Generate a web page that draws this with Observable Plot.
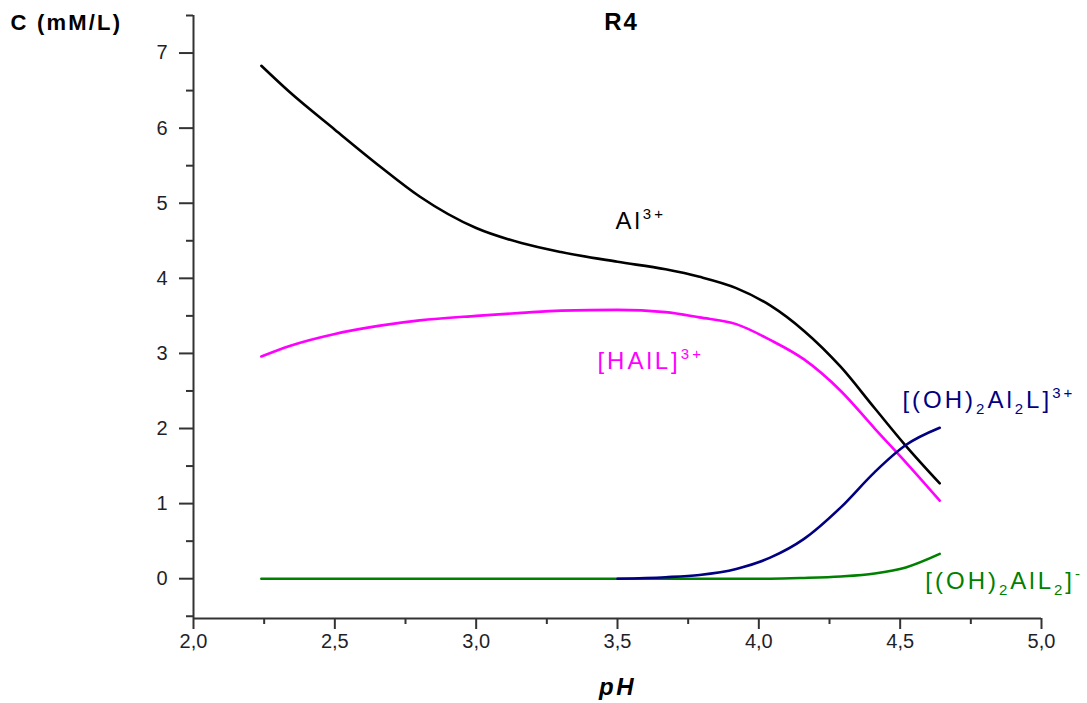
<!DOCTYPE html>
<html>
<head>
<meta charset="utf-8">
<script src="https://cdn.jsdelivr.net/npm/d3@7"></script>
<script src="https://cdn.jsdelivr.net/npm/@observablehq/plot@0.6"></script>
<style>
  html, body { margin: 0; padding: 0; background: #ffffff; }
  #chart { width: 1087px; height: 703px; }
</style>
</head>
<body>
<div id="chart"></div>
<script>
// ---- data ----
const pH = [2.24, 2.34, 2.5, 2.66, 2.8, 3.0, 3.16, 3.3, 3.5, 3.67, 3.79, 3.92, 4.04, 4.16, 4.29, 4.41, 4.52, 4.64];
const al3 =   [6.83, 6.48, 5.98, 5.49, 5.09, 4.67, 4.47, 4.35, 4.22, 4.12, 4.02, 3.87, 3.64, 3.30, 2.82, 2.27, 1.77, 1.27];
const hall =  [2.96, 3.10, 3.26, 3.37, 3.44, 3.50, 3.54, 3.57, 3.58, 3.55, 3.48, 3.39, 3.18, 2.92, 2.50, 2.00, 1.55, 1.04];
const ohal2l = [null, null, null, null, null, null, null, null, 0.00, 0.02, 0.05, 0.13, 0.28, 0.53, 0.95, 1.42, 1.78, 2.01];
const ohall2 = [0, 0, 0, 0, 0, 0, 0, 0, 0, 0, 0, 0, 0, 0.01, 0.03, 0.07, 0.15, 0.33];

const seriesNames = ["Al3+", "[HAlL]3+", "[(OH)2AlL2]-", "[(OH)2Al2L]3+"];
const seriesValues = [al3, hall, ohall2, ohal2l];
const seriesColors = ["#000000", "#ff00ff", "#008000", "#000080"];

// curve labels: markup (^{..} superscript, _{..} subscript), anchor position in data units
const labelMarkup = ["Al^{3+}", "[HAlL]^{3+}", "[(OH)_{2}AlL_{2}]^{-}", "[(OH)_{2}Al_{2}L]^{3+}"];
const labelPH = [3.493, 3.429, 4.589, 4.508];
const labelC = [4.76, 2.89, -0.04, 2.37];

const xTicks = [2.0, 2.5, 3.0, 3.5, 4.0, 4.5, 5.0];
const xMinorTicks = [2.25, 2.75, 3.25, 3.75, 4.25, 4.75];
const yTicks = [0, 1, 2, 3, 4, 5, 6, 7];
const yMinorTicks = [-0.5, 0.5, 1.5, 2.5, 3.5, 4.5, 5.5, 6.5, 7.5];
const xDomain = [2, 5];
const yDomain = [-0.53, 7.5];

const title = "R4";
const yTitle = "C (mM/L)";
const xTitle = "pH";

// ---- build tables ----
const lines = seriesNames.map((name, s) =>
  pH.map((p, i) => ({pH: p, C: seriesValues[s][i], species: name}))
    .filter(d => d.C !== null)
);
const plain = m => m.replace(/[\^_]\{([^}]*)\}/g, "$1");
const labels = labelMarkup.map((m, i) => ({text: plain(m), markup: m, pH: labelPH[i], C: labelC[i], color: seriesColors[i]}));
const fmtX = d => d.toFixed(1).replace(".", ",");
const fmtY = d => String(d);

const axisColor = "#333333";
const tickText = "#1f1f2a";
const tickFont = 20;
const font = "Liberation Sans, Arial, sans-serif";

const marks = [
  Plot.ruleX([xDomain[0]], {stroke: axisColor, strokeWidth: 2}),
  Plot.ruleY([yDomain[0]], {stroke: axisColor, strokeWidth: 2}),
  Plot.axisX({ticks: xTicks, tickSize: 11, strokeWidth: 2, stroke: axisColor, tickFormat: () => "", label: null}),
  Plot.axisX({ticks: xMinorTicks, tickSize: 6, strokeWidth: 2, stroke: axisColor, tickFormat: () => "", label: null}),
  Plot.axisY({ticks: yTicks, tickSize: 14, strokeWidth: 2, stroke: axisColor, tickFormat: () => "", label: null}),
  Plot.axisY({ticks: yMinorTicks, tickSize: 7, strokeWidth: 2, stroke: axisColor, tickFormat: () => "", label: null}),
  // tick labels
  Plot.text(xTicks, {x: d => d, text: fmtX, frameAnchor: "bottom", lineAnchor: "top", dy: 15,
    fontSize: tickFont, fill: tickText, fontFamily: font}),
  Plot.text(yTicks, {y: d => d, text: fmtY, frameAnchor: "left", textAnchor: "end", lineAnchor: "middle", dx: -26,
    fontSize: tickFont, fill: tickText, fontFamily: font}),
  ...lines.map((rows, s) => Plot.line(rows, {x: "pH", y: "C", stroke: seriesColors[s], strokeWidth: 2.6, curve: "monotone-x"})),
  Plot.text(labels, {x: "pH", y: "C", text: "text", fill: "color", textAnchor: "start", lineAnchor: "middle",
    fontSize: 24, fontFamily: font}),
  Plot.text([title], {frameAnchor: "top", lineAnchor: "middle", dx: 4, dy: 7, fontSize: 24, fontWeight: "bold", fill: "#000"}),
  Plot.text([yTitle], {frameAnchor: "top-left", textAnchor: "start", lineAnchor: "middle", dx: -183, dy: 7,
    fontSize: 22, fontWeight: "bold", fill: "#000"}),
  Plot.text([xTitle], {frameAnchor: "bottom", lineAnchor: "middle", dx: 0, dy: 69, fontSize: 24,
    fontWeight: "bold", fontStyle: "italic", fill: "#000"})
];

const chart = Plot.plot({
  width: 1087,
  height: 703,
  marginLeft: 193,
  marginRight: 46,
  marginTop: 15,
  marginBottom: 85,
  x: {domain: xDomain},
  y: {domain: yDomain},
  style: {fontFamily: font, background: "#ffffff", overflow: "visible"},
  marks
});

// ---- letter spacing and super/subscripts ----
const byText = new Map(labels.map(l => [l.text, l.markup]));
const spacing = new Map([[title, "2px"], [yTitle, "2.2px"], [xTitle, "2.5px"]]);
chart.querySelectorAll("text").forEach(t => {
  const s = t.textContent;
  if (spacing.has(s)) { t.style.letterSpacing = spacing.get(s); return; }
  const markup = byText.get(s);
  if (!markup) return;
  t.style.letterSpacing = "3px";
  while (t.firstChild) t.removeChild(t.firstChild);
  const re = /([\^_])\{([^}]*)\}|([^\^_]+)/g;
  let m, shift = 0;
  while ((m = re.exec(markup))) {
    const ts = document.createElementNS("http://www.w3.org/2000/svg", "tspan");
    let target = 0, str;
    if (m[1] === "^") { target = -10; str = m[2]; ts.setAttribute("font-size", "15"); }
    else if (m[1] === "_") { target = 6; str = m[2]; ts.setAttribute("font-size", "15"); }
    else { str = m[3]; }
    ts.setAttribute("dy", String(target - shift));
    shift = target;
    ts.textContent = str;
    t.appendChild(ts);
  }
});

document.getElementById("chart").appendChild(chart);
</script>
</body>
</html>
